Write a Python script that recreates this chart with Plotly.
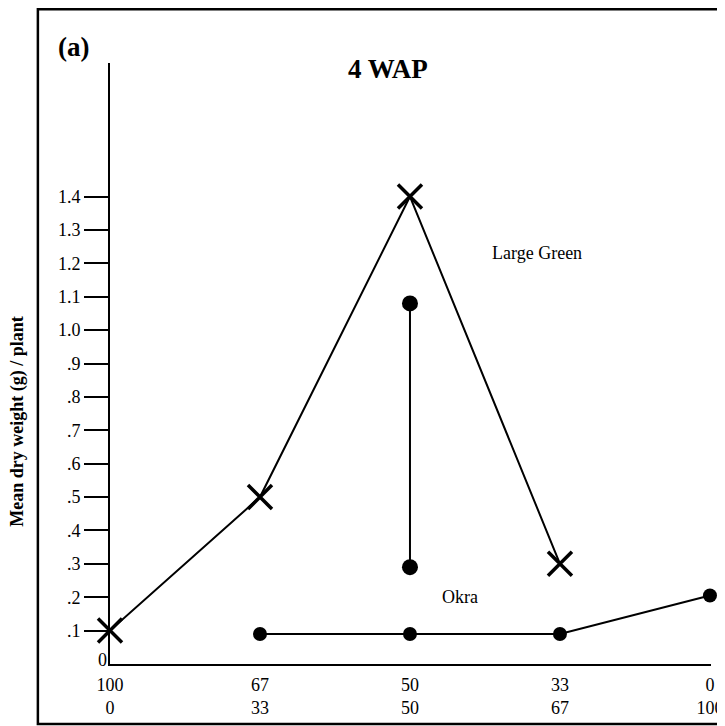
import plotly.graph_objects as go

# Data
x_top_labels = ["100", "67", "50", "33", "0"]
x_bottom_labels = ["0", "33", "50", "67", "100"]
x_pos = [0, 1, 2, 3, 4]

large_green_x = [0, 1, 2, 3]
large_green_y = [0.1, 0.5, 1.4, 0.3]

okra_x = [1, 2, 3, 4]
okra_y = [0.09, 0.09, 0.09, 0.205]

okra_range_x = [2, 2]
okra_range_y = [0.29, 1.08]

y_tick_vals = [0.1, 0.2, 0.3, 0.4, 0.5, 0.6, 0.7, 0.8, 0.9, 1.0, 1.1, 1.2, 1.3, 1.4]
y_tick_text = [".1", ".2", ".3", ".4", ".5", ".6", ".7", ".8", ".9", "1.0", "1.1", "1.2", "1.3", "1.4"]

FONT = "Liberation Serif, Times New Roman, serif"

fig = go.Figure()

fig.add_trace(go.Scatter(
    x=large_green_x, y=large_green_y, mode="lines",
    line=dict(color="black", width=2), cliponaxis=False, showlegend=False))
fig.add_trace(go.Scatter(
    x=okra_range_x, y=okra_range_y, mode="lines+markers",
    line=dict(color="black", width=2),
    marker=dict(symbol="circle", size=16, color="black"),
    cliponaxis=False, showlegend=False))
fig.add_trace(go.Scatter(
    x=okra_x, y=okra_y, mode="lines+markers",
    line=dict(color="black", width=2),
    marker=dict(symbol="circle", size=14, color="black"),
    cliponaxis=False, showlegend=False))
fig.add_trace(go.Scatter(
    x=large_green_x, y=large_green_y, mode="markers",
    marker=dict(symbol="x-thin", size=24, color="black",
                line=dict(color="black", width=3.5)),
    cliponaxis=False, showlegend=False))

def ann(text, x, y, size=18, yref="paper", **kw):
    d = dict(text=text, xref="paper", yref=yref, x=x, y=y, showarrow=False,
             xanchor="center", yanchor="middle",
             font=dict(family=FONT, size=size, color="black"))
    d.update(kw)
    return d

fig.update_layout(
    template="none",
    width=717, height=718,
    margin=dict(l=102, r=14, t=55, b=62, autoexpand=False),
    paper_bgcolor="white", plot_bgcolor="white",
    font=dict(family=FONT, size=18, color="black"),
    xaxis=dict(
        range=[0, 4.007], showgrid=False, zeroline=False, automargin=False,
        showline=True, linecolor="black", linewidth=2,
        tickvals=x_pos,
        ticktext=[f"{a}<br>{b}" for a, b in zip(x_top_labels, x_bottom_labels)],
        ticks="outside", ticklen=3, tickcolor="rgba(0,0,0,0)",
        tickfont=dict(family=FONT, size=18, color="black"),
    ),
    yaxis=dict(
        range=[0, 1.8], showgrid=False, zeroline=False, automargin=False,
        showline=True, linecolor="black", linewidth=2,
        tickvals=y_tick_vals, ticktext=y_tick_text,
        ticks="outside", ticklen=24, tickwidth=2, tickcolor="black",
        tickfont=dict(family=FONT, size=18, color="black"),
    ),
    shapes=[dict(
        type="rect", xref="paper", yref="paper",
        x0=-0.12, x1=1.1, y0=-0.0998, y1=1.0895,
        line=dict(color="black", width=2.5), fillcolor="rgba(0,0,0,0)",
    )],
    annotations=[
        ann("<b>(a)</b>", -0.06, 1.027, size=27),
        ann("<b>4 WAP</b>", 0.462, 0.99, size=27),
        ann("Large Green", 0.71, 0.684),
        ann("Okra", 0.583, 0.111),
        ann("0", -0.002, 0.012, yref="y", xanchor="right"),
        ann("<b>Mean dry weight (g) / plant</b>", -0.153, 0.403, textangle=-90),
    ],
)

fig.write_html("out.html")
